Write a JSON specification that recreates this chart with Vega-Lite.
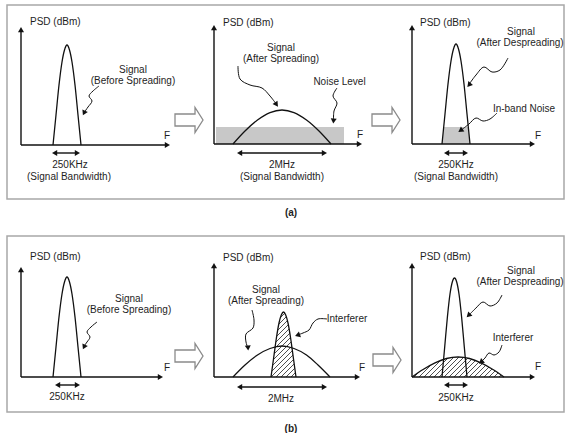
{
"$schema": "https://vega.github.io/schema/vega-lite/v6.json",
"width": 565, "height": 433, "padding": 0, "autosize": {"type": "none"},
"background": "white",
"config": {"view": {"stroke": null}, "font": "Liberation Sans"},
"datasets": {
"frames": [{"x":7,"x2":564,"y":5,"y2":199},{"x":7,"x2":564,"y":236,"y2":412}],
"noise": [{"x":216,"x2":344,"y":127,"y2":144}],
"inband": [{"x":442,"y":144},{"x":443.7,"y":127},{"x":468.3,"y":127},{"x":470,"y":144}],
"curves": [
{"id":"p1a","x":53,"y":145},{"id":"p1a","x":56,"y":115},{"id":"p1a","x":59,"y":85},{"id":"p1a","x":62,"y":62},{"id":"p1a","x":64.5,"y":50},{"id":"p1a","x":67,"y":45},{"id":"p1a","x":69.5,"y":50},{"id":"p1a","x":72,"y":62},{"id":"p1a","x":75,"y":85},{"id":"p1a","x":78,"y":115},{"id":"p1a","x":81,"y":145},
{"id":"p2a","x":233,"y":144},{"id":"p2a","x":245,"y":131},{"id":"p2a","x":257.5,"y":120},{"id":"p2a","x":270,"y":112.6},{"id":"p2a","x":282,"y":110},{"id":"p2a","x":294,"y":112.6},{"id":"p2a","x":306.5,"y":120},{"id":"p2a","x":319,"y":131},{"id":"p2a","x":331,"y":144},
{"id":"p3a","x":442,"y":144},{"id":"p3a","x":445,"y":114},{"id":"p3a","x":448,"y":84},{"id":"p3a","x":451,"y":61},{"id":"p3a","x":453.5,"y":49},{"id":"p3a","x":456,"y":44},{"id":"p3a","x":458.5,"y":49},{"id":"p3a","x":461,"y":61},{"id":"p3a","x":464,"y":84},{"id":"p3a","x":467,"y":114},{"id":"p3a","x":470,"y":144},
{"id":"p1b","x":53,"y":377},{"id":"p1b","x":56,"y":347},{"id":"p1b","x":59,"y":317},{"id":"p1b","x":62,"y":294},{"id":"p1b","x":64.5,"y":282},{"id":"p1b","x":67,"y":277},{"id":"p1b","x":69.5,"y":282},{"id":"p1b","x":72,"y":294},{"id":"p1b","x":75,"y":317},{"id":"p1b","x":78,"y":347},{"id":"p1b","x":81,"y":377},
{"id":"p2b","x":233,"y":377},{"id":"p2b","x":245,"y":365},{"id":"p2b","x":257.5,"y":355},{"id":"p2b","x":270,"y":348.5},{"id":"p2b","x":282,"y":346},{"id":"p2b","x":294,"y":348.5},{"id":"p2b","x":306.5,"y":355},{"id":"p2b","x":318,"y":365},{"id":"p2b","x":330,"y":377},
{"id":"i2b","x":271,"y":377},{"id":"i2b","x":273.7,"y":357.5},{"id":"i2b","x":276.4,"y":338},{"id":"i2b","x":279,"y":323},{"id":"i2b","x":281.3,"y":315},{"id":"i2b","x":283.5,"y":312},{"id":"i2b","x":285.7,"y":315},{"id":"i2b","x":288,"y":323},{"id":"i2b","x":290.6,"y":338},{"id":"i2b","x":293.3,"y":357.5},{"id":"i2b","x":296,"y":377},
{"id":"p3b","x":442,"y":377},{"id":"p3b","x":444.7,"y":347},{"id":"p3b","x":447.4,"y":317},{"id":"p3b","x":450,"y":294},{"id":"p3b","x":452.3,"y":282},{"id":"p3b","x":454.5,"y":278},{"id":"p3b","x":456.7,"y":282},{"id":"p3b","x":459,"y":294},{"id":"p3b","x":461.6,"y":317},{"id":"p3b","x":464.3,"y":347},{"id":"p3b","x":467,"y":377},
{"id":"i3b","x":412,"y":377},{"id":"i3b","x":423.5,"y":369.3},{"id":"i3b","x":435,"y":362.9},{"id":"i3b","x":446.5,"y":358.5},{"id":"i3b","x":458,"y":357},{"id":"i3b","x":469.5,"y":358.5},{"id":"i3b","x":481,"y":362.9},{"id":"i3b","x":492.5,"y":369.3},{"id":"i3b","x":504,"y":377}
],
"hatch": [
{"x":271,"y":317,"x2":276,"y2":312},{"x":271,"y":322,"x2":281,"y2":312},{"x":271,"y":327,"x2":286,"y2":312},{"x":271,"y":332,"x2":291,"y2":312},{"x":271,"y":337,"x2":296,"y2":312},{"x":271,"y":342,"x2":296,"y2":317},{"x":271,"y":347,"x2":296,"y2":322},{"x":271,"y":352,"x2":296,"y2":327},{"x":271,"y":357,"x2":296,"y2":332},{"x":271,"y":362,"x2":296,"y2":337},{"x":271,"y":367,"x2":296,"y2":342},{"x":271,"y":372,"x2":296,"y2":347},{"x":271,"y":377,"x2":296,"y2":352},{"x":276,"y":377,"x2":296,"y2":357},{"x":281,"y":377,"x2":296,"y2":362},{"x":286,"y":377,"x2":296,"y2":367},{"x":291,"y":377,"x2":296,"y2":372},
{"x":412,"y":369,"x2":424,"y2":357},{"x":412,"y":374,"x2":429,"y2":357},{"x":414,"y":377,"x2":434,"y2":357},{"x":419,"y":377,"x2":439,"y2":357},{"x":424,"y":377,"x2":444,"y2":357},{"x":429,"y":377,"x2":449,"y2":357},{"x":434,"y":377,"x2":454,"y2":357},{"x":439,"y":377,"x2":459,"y2":357},{"x":444,"y":377,"x2":464,"y2":357},{"x":449,"y":377,"x2":469,"y2":357},{"x":454,"y":377,"x2":474,"y2":357},{"x":459,"y":377,"x2":479,"y2":357},{"x":464,"y":377,"x2":484,"y2":357},{"x":469,"y":377,"x2":489,"y2":357},{"x":474,"y":377,"x2":494,"y2":357},{"x":479,"y":377,"x2":499,"y2":357},{"x":484,"y":377,"x2":504,"y2":357},{"x":489,"y":377,"x2":504,"y2":362},{"x":494,"y":377,"x2":504,"y2":367},{"x":499,"y":377,"x2":504,"y2":372}
],
"rules": [
{"x":21,"y":145,"x2":21,"y2":31},{"x":21,"y":145,"x2":167,"y2":145},
{"x":214,"y":144,"x2":214,"y2":29},{"x":214,"y":144,"x2":359,"y2":144},
{"x":412,"y":144,"x2":412,"y2":29},{"x":412,"y":144,"x2":532,"y2":144},
{"x":21,"y":377,"x2":21,"y2":271},{"x":21,"y":377,"x2":160,"y2":377},
{"x":214,"y":377,"x2":214,"y2":267},{"x":214,"y":377,"x2":357,"y2":377},
{"x":412,"y":377,"x2":412,"y2":267},{"x":412,"y":377,"x2":532,"y2":377},
{"x":54,"y":153,"x2":78,"y2":153},{"x":239,"y":153,"x2":325,"y2":153},{"x":446,"y":153,"x2":466,"y2":153},
{"x":57,"y":385,"x2":78,"y2":385},{"x":239,"y":387,"x2":325,"y2":387},{"x":446,"y":385,"x2":466,"y2":385}
],
"heads": [
{"x":21,"y":29.6,"angle":0},{"x":167.4,"y":145,"angle":90},
{"x":214,"y":27.6,"angle":0},{"x":359.4,"y":144,"angle":90},
{"x":412,"y":27.6,"angle":0},{"x":532.4,"y":144,"angle":90},
{"x":21,"y":269.6,"angle":0},{"x":160.4,"y":377,"angle":90},
{"x":214,"y":265.6,"angle":0},{"x":357.4,"y":377,"angle":90},
{"x":412,"y":265.6,"angle":0},{"x":532.4,"y":377,"angle":90},
{"x":54.6,"y":153,"angle":270},{"x":77.4,"y":153,"angle":90},
{"x":239.6,"y":153,"angle":270},{"x":324.4,"y":153,"angle":90},
{"x":446.6,"y":153,"angle":270},{"x":465.4,"y":153,"angle":90},
{"x":57.6,"y":385,"angle":270},{"x":77.4,"y":385,"angle":90},
{"x":239.6,"y":387,"angle":270},{"x":324.4,"y":387,"angle":90},
{"x":446.6,"y":385,"angle":270},{"x":465.4,"y":385,"angle":90},
{"x":84,"y":113,"angle":205},{"x":276.5,"y":104.5,"angle":145},{"x":333.5,"y":121,"angle":185},
{"x":469,"y":85,"angle":220},{"x":460.5,"y":130.5,"angle":235},
{"x":84,"y":347,"angle":205},{"x":248,"y":348,"angle":175},{"x":297.5,"y":335.2,"angle":250},
{"x":468.5,"y":315.5,"angle":225},{"x":481,"y":362,"angle":230}
],
"squiggles": [
{"id":"s1a","x":99,"y":86},{"id":"s1a","x":93,"y":91},{"id":"s1a","x":89,"y":96},{"id":"s1a","x":92,"y":101},{"id":"s1a","x":88,"y":107},{"id":"s1a","x":84.5,"y":112},
{"id":"s2a","x":238,"y":66},{"id":"s2a","x":240,"y":79},{"id":"s2a","x":250,"y":85},{"id":"s2a","x":262,"y":88},{"id":"s2a","x":270,"y":96},{"id":"s2a","x":275.5,"y":103},
{"id":"n2a","x":337,"y":88},{"id":"n2a","x":333,"y":96},{"id":"n2a","x":337,"y":103},{"id":"n2a","x":334,"y":111},{"id":"n2a","x":333.5,"y":119},
{"id":"s3a","x":508,"y":58},{"id":"s3a","x":500,"y":70},{"id":"s3a","x":492,"y":72},{"id":"s3a","x":484,"y":67},{"id":"s3a","x":476,"y":75},{"id":"s3a","x":470,"y":83},
{"id":"b3a","x":497,"y":113},{"id":"b3a","x":490,"y":119},{"id":"b3a","x":483,"y":121},{"id":"b3a","x":476,"y":118},{"id":"b3a","x":469,"y":124},{"id":"b3a","x":462,"y":129.5},
{"id":"s1b","x":97,"y":322},{"id":"s1b","x":91,"y":327},{"id":"s1b","x":87,"y":332},{"id":"s1b","x":90,"y":337},{"id":"s1b","x":87,"y":342},{"id":"s1b","x":84.5,"y":345.5},
{"id":"s2b","x":252,"y":310},{"id":"s2b","x":254,"y":320},{"id":"s2b","x":253,"y":328},{"id":"s2b","x":246,"y":334},{"id":"s2b","x":246,"y":342},{"id":"s2b","x":247.5,"y":347},
{"id":"i2b","x":327,"y":319},{"id":"i2b","x":318,"y":319},{"id":"i2b","x":313,"y":323},{"id":"i2b","x":309,"y":330},{"id":"i2b","x":303,"y":333},{"id":"i2b","x":299,"y":334.5},
{"id":"s3b","x":502,"y":295},{"id":"s3b","x":497,"y":303},{"id":"s3b","x":490,"y":306},{"id":"s3b","x":483,"y":302},{"id":"s3b","x":476,"y":308},{"id":"s3b","x":470,"y":314},
{"id":"i3b","x":502,"y":345},{"id":"i3b","x":499,"y":352},{"id":"i3b","x":494,"y":355},{"id":"i3b","x":489,"y":353},{"id":"i3b","x":485,"y":358},{"id":"i3b","x":482,"y":361}
],
"bigarrows": [{"x":189,"y":120},{"x":386,"y":120},{"x":189,"y":356},{"x":387,"y":360}],
"labels": [
{"x":133,"y":70,"t":"Signal"},{"x":133,"y":81,"t":"(Before Spreading)"},{"x":70,"y":165,"t":"250KHz"},{"x":69,"y":176.5,"t":"(Signal Bandwidth)"},{"x":167,"y":135.5,"t":"F"},
{"x":281,"y":48,"t":"Signal"},{"x":281,"y":59,"t":"(After Spreading)"},{"x":339.5,"y":82,"t":"Noise Level"},{"x":360,"y":135,"t":"F"},{"x":282,"y":165,"t":"2MHz"},{"x":282,"y":176.5,"t":"(Signal Bandwidth)"},
{"x":521,"y":32,"t":"Signal"},{"x":520,"y":43,"t":"(After Despreading)"},{"x":524,"y":109,"t":"In-band Noise"},{"x":538,"y":136,"t":"F"},{"x":456,"y":165,"t":"250KHz"},{"x":456,"y":176.5,"t":"(Signal Bandwidth)"},
{"x":129,"y":299,"t":"Signal"},{"x":129,"y":310,"t":"(Before Spreading)"},{"x":167,"y":368,"t":"F"},{"x":67,"y":397,"t":"250KHz"},
{"x":266,"y":290,"t":"Signal"},{"x":266,"y":301,"t":"(After Spreading)"},{"x":347,"y":319,"t":"Interferer"},{"x":362,"y":368,"t":"F"},{"x":281,"y":399,"t":"2MHz"},
{"x":521,"y":271,"t":"Signal"},{"x":520,"y":282,"t":"(After Despreading)"},{"x":513,"y":338,"t":"Interferer"},{"x":538,"y":367,"t":"F"},{"x":456,"y":398,"t":"250KHz"}
],
"psd": [{"x":30,"y":22,"t":"PSD (dBm)"},{"x":223,"y":23,"t":"PSD (dBm)"},{"x":420,"y":23,"t":"PSD (dBm)"},{"x":30,"y":257,"t":"PSD (dBm)"},{"x":223,"y":258,"t":"PSD (dBm)"},{"x":420,"y":257,"t":"PSD (dBm)"}],
"captions": [{"x":291,"y":213,"t":"(a)"},{"x":291,"y":429,"t":"(b)"}]
},
"layer": [
{"data":{"name":"frames"},"mark":{"type":"rect","filled":false,"stroke":"#a8a8a8","strokeWidth":1.5},
 "encoding":{"x":{"field":"x","type":"quantitative","scale":{"domain":[0,565],"nice":false,"zero":false},"axis":null},"x2":{"field":"x2"},
 "y":{"field":"y","type":"quantitative","scale":{"domain":[0,433],"nice":false,"zero":false,"reverse":true},"axis":null},"y2":{"field":"y2"}}},
{"data":{"name":"noise"},"mark":{"type":"rect","fill":"#c8c8c8"},
 "encoding":{"x":{"field":"x","type":"quantitative","scale":{"domain":[0,565],"nice":false,"zero":false},"axis":null},"x2":{"field":"x2"},
 "y":{"field":"y","type":"quantitative","scale":{"domain":[0,433],"nice":false,"zero":false,"reverse":true},"axis":null},"y2":{"field":"y2"}}},
{"data":{"name":"inband"},"mark":{"type":"area","fill":"#c8c8c8","interpolate":"linear"},
 "encoding":{"x":{"field":"x","type":"quantitative","scale":{"domain":[0,565],"nice":false,"zero":false},"axis":null},
 "y":{"field":"y","type":"quantitative","scale":{"domain":[0,433],"nice":false,"zero":false,"reverse":true},"axis":null},"y2":{"datum":144}}},
{"data":{"name":"hatch"},"mark":{"type":"rule","stroke":"#222","strokeWidth":0.8},
 "encoding":{"x":{"field":"x","type":"quantitative","scale":{"domain":[0,565],"nice":false,"zero":false},"axis":null},"x2":{"field":"x2"},
 "y":{"field":"y","type":"quantitative","scale":{"domain":[0,433],"nice":false,"zero":false,"reverse":true},"axis":null},"y2":{"field":"y2"}}},
{"data":{"name":"curves"},"transform":[{"filter":"datum.id == 'i2b'"}],"mark":{"type":"area","fill":"white","interpolate":"monotone"},
 "encoding":{"x":{"field":"x","type":"quantitative","scale":{"domain":[0,565],"nice":false,"zero":false},"axis":null},
 "y":{"field":"y","type":"quantitative","scale":{"domain":[0,433],"nice":false,"zero":false,"reverse":true},"axis":null},"y2":{"datum":310}}},
{"data":{"name":"curves"},"transform":[{"filter":"datum.id == 'i3b'"}],"mark":{"type":"area","fill":"white","interpolate":"monotone"},
 "encoding":{"x":{"field":"x","type":"quantitative","scale":{"domain":[0,565],"nice":false,"zero":false},"axis":null},
 "y":{"field":"y","type":"quantitative","scale":{"domain":[0,433],"nice":false,"zero":false,"reverse":true},"axis":null},"y2":{"datum":355}}},
{"data":{"name":"curves"},"mark":{"type":"line","stroke":"#111","strokeWidth":1.3,"interpolate":"monotone"},
 "encoding":{"x":{"field":"x","type":"quantitative","scale":{"domain":[0,565],"nice":false,"zero":false},"axis":null},
 "y":{"field":"y","type":"quantitative","scale":{"domain":[0,433],"nice":false,"zero":false,"reverse":true},"axis":null},"detail":{"field":"id"},"order":{"value":null}}},
{"data":{"name":"rules"},"mark":{"type":"rule","stroke":"#111","strokeWidth":1.4},
 "encoding":{"x":{"field":"x","type":"quantitative","scale":{"domain":[0,565],"nice":false,"zero":false},"axis":null},"x2":{"field":"x2"},
 "y":{"field":"y","type":"quantitative","scale":{"domain":[0,433],"nice":false,"zero":false,"reverse":true},"axis":null},"y2":{"field":"y2"}}},
{"data":{"name":"squiggles"},"mark":{"type":"line","stroke":"#111","strokeWidth":1,"interpolate":"catmull-rom"},
 "encoding":{"x":{"field":"x","type":"quantitative","scale":{"domain":[0,565],"nice":false,"zero":false},"axis":null},
 "y":{"field":"y","type":"quantitative","scale":{"domain":[0,433],"nice":false,"zero":false,"reverse":true},"axis":null},"detail":{"field":"id"},"order":{"value":null}}},
{"data":{"name":"heads"},"mark":{"type":"point","shape":"triangle-up","filled":true,"fill":"#111","size":36,"opacity":1},
 "encoding":{"x":{"field":"x","type":"quantitative","scale":{"domain":[0,565],"nice":false,"zero":false},"axis":null},
 "y":{"field":"y","type":"quantitative","scale":{"domain":[0,433],"nice":false,"zero":false,"reverse":true},"axis":null},
 "angle":{"field":"angle","type":"quantitative","scale":null}}},
{"data":{"name":"bigarrows"},"mark":{"type":"point","shape":"M-1,-0.43L0.43,-0.43L0.43,-0.9L1,0L0.43,0.9L0.43,0.43L-1,0.43Z","filled":true,"fill":"white","stroke":"#8a8a8a","strokeWidth":1.3,"size":784,"opacity":1},
 "encoding":{"x":{"field":"x","type":"quantitative","scale":{"domain":[0,565],"nice":false,"zero":false},"axis":null},
 "y":{"field":"y","type":"quantitative","scale":{"domain":[0,433],"nice":false,"zero":false,"reverse":true},"axis":null}}},
{"data":{"name":"labels"},"mark":{"type":"text","fontSize":10,"color":"#1e1e1e","align":"center","baseline":"middle"},
 "encoding":{"x":{"field":"x","type":"quantitative","scale":{"domain":[0,565],"nice":false,"zero":false},"axis":null},
 "y":{"field":"y","type":"quantitative","scale":{"domain":[0,433],"nice":false,"zero":false,"reverse":true},"axis":null},"text":{"field":"t"}}},
{"data":{"name":"psd"},"mark":{"type":"text","fontSize":10,"color":"#1e1e1e","align":"left","baseline":"middle"},
 "encoding":{"x":{"field":"x","type":"quantitative","scale":{"domain":[0,565],"nice":false,"zero":false},"axis":null},
 "y":{"field":"y","type":"quantitative","scale":{"domain":[0,433],"nice":false,"zero":false,"reverse":true},"axis":null},"text":{"field":"t"}}},
{"data":{"name":"captions"},"mark":{"type":"text","fontSize":10,"fontWeight":"bold","color":"#1e1e1e","align":"center","baseline":"middle"},
 "encoding":{"x":{"field":"x","type":"quantitative","scale":{"domain":[0,565],"nice":false,"zero":false},"axis":null},
 "y":{"field":"y","type":"quantitative","scale":{"domain":[0,433],"nice":false,"zero":false,"reverse":true},"axis":null},"text":{"field":"t"}}}
]
}
